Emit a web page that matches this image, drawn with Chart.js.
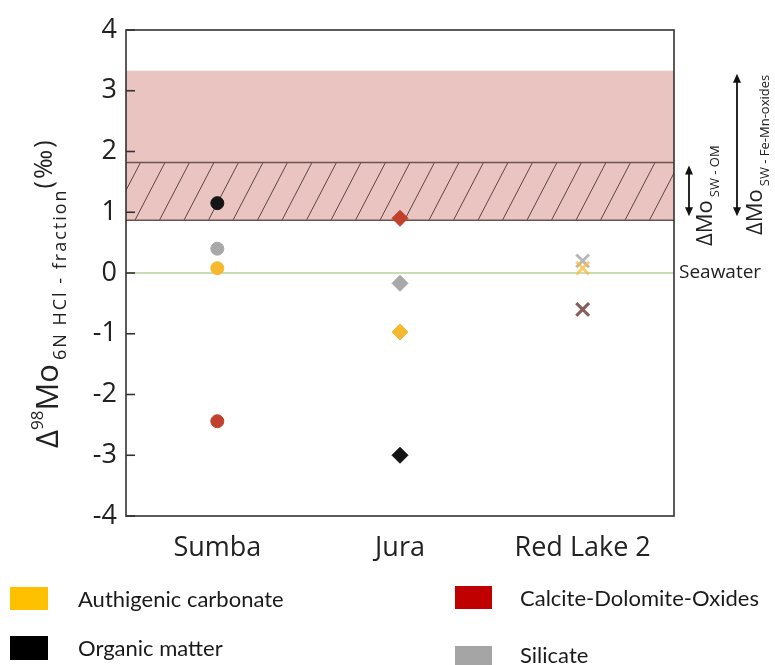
<!DOCTYPE html>
<html>
<head>
<meta charset="utf-8">
<script src="https://cdn.jsdelivr.net/npm/chart.js@4.4.1/dist/chart.umd.min.js"></script>
<style>
  html, body { margin: 0; padding: 0; background: #fff; }
  #wrap { position: relative; width: 775px; height: 665px; overflow: hidden; }
  #c { position: absolute; left: 0; top: 0; }
  .sw { position: absolute; }
  .lt { position: absolute; font-family: Lato, "Open Sans", sans-serif; font-size: 22px; color: #1a1a1a; line-height: 24px; white-space: nowrap; }
</style>
</head>
<body>
<div id="wrap">
  <canvas id="c" width="775" height="665"></canvas>
  <div class="sw" style="left:10px;top:587px;width:38px;height:23px;background:#ffc000"></div>
  <div class="lt" style="left:78px;top:587px">Authigenic carbonate</div>
  <div class="sw" style="left:10px;top:636px;width:38px;height:24px;background:#000"></div>
  <div class="lt" style="left:78px;top:636px">Organic matter</div>
  <div class="sw" style="left:455px;top:586px;width:37px;height:23px;background:#c00000"></div>
  <div class="lt" style="left:520px;top:586px">Calcite-Dolomite-Oxides</div>
  <div class="sw" style="left:455px;top:646px;width:37px;height:20px;background:#a5a5a5"></div>
  <div class="lt" style="left:520px;top:643px">Silicate</div>
</div>
<script>
// ---- data ----
const categories = ["Sumba", "Jura", "Red Lake 2"];
const authigenicCarbonate = [0.08, -0.97, 0.08];
const organicMatter = [1.15, -3.0, -0.6];
const calciteDolomiteOxides = [-2.44, 0.9, -0.6];
const silicate = [0.40, -0.17, 0.2];
const yTicks = [-4, -3, -2, -1, 0, 1, 2, 3, 4];
const omBand = [0.87, 1.82];        // ΔMo SW-OM (hatched)
const feMnBand = [0.87, 3.33];      // ΔMo SW-Fe-Mn-oxides (pink)
const seawater = 0;

const pointStyles = ['circle', 'rectRot', 'crossRot'];
const pointRadii = [6.5, 8, 9];

function ds(label, data, solid, xcol) {
  return {
    label, data,
    showLine: false,
    pointStyle: pointStyles,
    pointRadius: pointRadii,
    pointHoverRadius: pointRadii,
    backgroundColor: [solid, solid, xcol],
    borderColor: [solid, solid, xcol],
    pointBorderWidth: [1, 1, 3]
  };
}

const bandPlugin = {
  id: 'bands',
  beforeDatasetsDraw(chart) {
    const { ctx, chartArea: a, scales: { y } } = chart;
    ctx.save();
    const pTop = y.getPixelForValue(feMnBand[1]);
    const pBot = y.getPixelForValue(feMnBand[0]);
    ctx.fillStyle = '#e9c4c0';
    ctx.fillRect(a.left, pTop, a.right - a.left, pBot - pTop);
    const hTop = y.getPixelForValue(omBand[1]);
    const hBot = y.getPixelForValue(omBand[0]);
    ctx.save();
    ctx.beginPath();
    ctx.rect(a.left, hTop, a.right - a.left, hBot - hTop);
    ctx.clip();
    ctx.strokeStyle = '#5e4544';
    ctx.lineWidth = 1;
    const h = hBot - hTop;
    const dx = h * 0.52;
    for (let x = a.left - 40; x < a.right + 40; x += 24.5) {
      ctx.beginPath();
      ctx.moveTo(x, hBot);
      ctx.lineTo(x + dx, hTop);
      ctx.stroke();
    }
    ctx.restore();
    ctx.strokeStyle = '#6e5352';
    ctx.lineWidth = 1.5;
    [hTop, hBot].forEach(py => {
      ctx.beginPath(); ctx.moveTo(a.left, py); ctx.lineTo(a.right, py); ctx.stroke();
    });
    const s = y.getPixelForValue(seawater);
    ctx.strokeStyle = '#c9ddb4';
    ctx.lineWidth = 2;
    ctx.beginPath(); ctx.moveTo(a.left, s); ctx.lineTo(a.right, s); ctx.stroke();
    ctx.restore();
  },
  afterDatasetsDraw(chart) {
    const { ctx, chartArea: a, scales: { y } } = chart;
    ctx.save();
    ctx.strokeStyle = '#333';
    ctx.lineWidth = 1.6;
    ctx.strokeRect(a.left, a.top, a.right - a.left, a.bottom - a.top);
    yTicks.forEach(v => {
      const py = y.getPixelForValue(v);
      ctx.beginPath(); ctx.moveTo(a.left, py); ctx.lineTo(a.left + 9, py); ctx.stroke();
    });
    function arrow(x, v1, v2) {
      const yt = y.getPixelForValue(v1) + 3, yb = y.getPixelForValue(v2) - 4;
      ctx.strokeStyle = '#111'; ctx.fillStyle = '#111'; ctx.lineWidth = 1.8;
      ctx.beginPath(); ctx.moveTo(x, yt + 4); ctx.lineTo(x, yb - 4); ctx.stroke();
      ctx.beginPath(); ctx.moveTo(x, yt); ctx.lineTo(x - 4, yt + 9); ctx.lineTo(x + 4, yt + 9); ctx.closePath(); ctx.fill();
      ctx.beginPath(); ctx.moveTo(x, yb); ctx.lineTo(x - 4, yb - 9); ctx.lineTo(x + 4, yb - 9); ctx.closePath(); ctx.fill();
    }
    arrow(a.right + 15, omBand[1], omBand[0]);
    arrow(a.right + 63, feMnBand[1], feMnBand[0]);
    function rich(x, yy, parts) {
      ctx.save();
      ctx.translate(x, yy);
      ctx.rotate(-Math.PI / 2);
      ctx.textBaseline = 'alphabetic';
      ctx.textAlign = 'left';
      let cx = 0;
      parts.forEach(p => {
        ctx.font = p.size + 'px "Open Sans", sans-serif';
        ctx.letterSpacing = (p.ls || 0) + 'px';
        ctx.fillStyle = p.color || '#222';
        ctx.fillText(p.t, cx, p.dy || 0);
        cx += ctx.measureText(p.t).width + (p.gap || 0);
      });
      ctx.restore();
    }
    rich(712, 246, [
      { t: 'ΔMo', size: 22, gap: 3 },
      { t: 'SW - OM', size: 13, dy: 7 }
    ]);
    rich(762, 235, [
      { t: 'ΔMo', size: 22, gap: 3 },
      { t: 'SW - Fe-Mn-oxides', size: 13, dy: 7 }
    ]);
    rich(58, 448, [
      { t: 'Δ', size: 31 },
      { t: '98', size: 17, dy: -15 },
      { t: 'Mo', size: 31, gap: 4 },
      { t: '6N HCl - fraction', size: 18, dy: 8, ls: 2 },
      { t: '(‰)', size: 25, dy: -6, ls: 2 }
    ]);
    ctx.font = '19px "Open Sans", sans-serif';
    ctx.letterSpacing = '0px';
    ctx.fillStyle = '#222';
    ctx.textAlign = 'left';
    ctx.textBaseline = 'middle';
    ctx.fillText('Seawater', a.right + 5, y.getPixelForValue(seawater));
    ctx.restore();
  }
};

new Chart(document.getElementById('c'), {
  type: 'line',
  data: {
    labels: categories,
    datasets: [
      ds('Authigenic carbonate', authigenicCarbonate, '#f5b82e', 'rgba(245,190,60,0.75)'),
      ds('Silicate', silicate, '#a8a8a8', 'rgba(160,160,160,0.75)'),
      ds('Organic matter', organicMatter, '#151515', 'rgba(40,30,30,0.45)'),
      ds('Calcite-Dolomite-Oxides', calciteDolomiteOxides, '#c0412b', 'rgba(180,70,60,0.6)')
    ]
  },
  options: {
    responsive: false,
    animation: false,
    layout: { padding: { left: 0, right: 101, top: 30, bottom: 99 } },
    plugins: { legend: { display: false }, tooltip: { enabled: false } },
    scales: {
      x: {
        type: 'category',
        offset: true,
        grid: { display: false, drawTicks: false },
        border: { display: false },
        ticks: { padding: 16, color: '#222', font: { family: 'Open Sans', size: 27 } },
        afterFit(s) { s.height = 50; }
      },
      y: {
        min: -4, max: 4,
        afterBuildTicks(s) { s.ticks = yTicks.map(v => ({ value: v })); },
        grid: { display: false, drawTicks: false },
        border: { display: false },
        ticks: { padding: 9, color: '#222', font: { family: 'Open Sans', size: 27 } },
        afterFit(s) { s.width = 126; }
      }
    }
  },
  plugins: [bandPlugin]
});
</script>
</body>
</html>
